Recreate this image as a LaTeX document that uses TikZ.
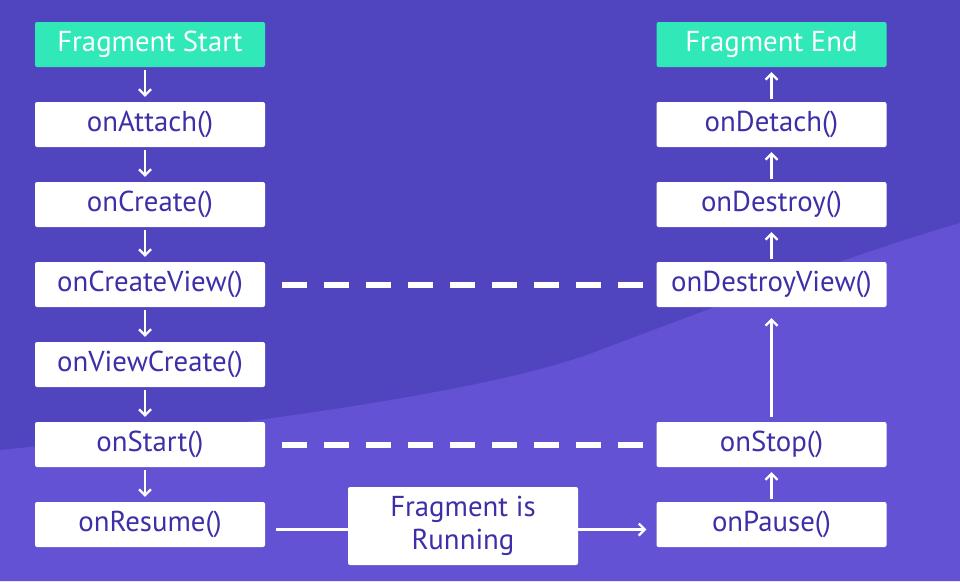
\documentclass[tikz,border=0pt]{standalone}
\usepackage{fontspec}
\setmainfont{PT Sans}
\usetikzlibrary{arrows.meta}
\definecolor{bgdark}{HTML}{5044BF}
\definecolor{bglight}{HTML}{6352D4}
\definecolor{tealbox}{HTML}{30E8B8}
\definecolor{txt}{HTML}{3D2FA8}
\tikzset{
  box/.style={fill=white, rounded corners=2pt, minimum width=230pt, minimum height=45pt, inner sep=0pt, text=txt, font=\fontsize{28.8}{30}\selectfont},
  endbox/.style={box, fill=tealbox, text=white},
  arr/.style={draw=white, line width=2.4pt, -{Straight Barb[length=6pt,width=12pt,line width=2.2pt]}},
  dashline/.style={draw=white, line width=6pt, dash pattern=on 25pt off 17pt}
}
\begin{document}
\begin{tikzpicture}[x=1pt,y=-1pt]
\useasboundingbox (0,0) rectangle (960,581);
\fill[bgdark] (0,0) rectangle (960,581);
\fill[bglight] (0,450) .. controls (250,425) and (500,390) .. (600,350) .. controls (720,305) and (850,255) .. (960,223) -- (960,581) -- (0,581) -- cycle;
% left column
\node[endbox] (fs) at (150,44.5) {Fragment Start};
\node[box] (att) at (150,124.5) {onAttach()};
\node[box] (cre) at (150,204.5) {onCreate()};
\node[box] (crv) at (150,284.5) {onCreateView()};
\node[box] (vcr) at (150,364.5) {onViewCreate()};
\node[box] (sta) at (150,444.5) {onStart()};
\node[box] (res) at (150,524.5) {onResume()};
% right column
\node[endbox] (fe) at (771.5,44.5) {Fragment End};
\node[box] (det) at (771.5,124.5) {onDetach()};
\node[box] (des) at (771.5,204.5) {onDestroy()};
\node[box] (dsv) at (771.5,284.5) {onDestroyView()};
\node[box] (sto) at (771.5,444.5) {onStop()};
\node[box] (pau) at (771.5,524.5) {onPause()};
% middle
\node[box, minimum height=78pt, align=center, font=\fontsize{28.8}{33}\selectfont] (run) at (463,526) {Fragment is\\Running};
% left arrows
\foreach \a/\b in {fs/att,att/cre,cre/crv,crv/vcr,vcr/sta,sta/res}{
  \draw[arr] ([xshift=-5pt,yshift=-3pt]\a.south) -- ([xshift=-5pt,yshift=5pt]\b.north);
}
% right arrows
\foreach \a/\b in {pau/sto,dsv/des,des/det,det/fe}{
  \draw[arr] ([yshift=3pt]\a.north) -- ([yshift=-5pt]\b.south);
}
\draw[arr] ([yshift=5pt]sto.north) -- ([yshift=-11pt]dsv.south);
% dashed
\draw[dashline] ([xshift=17pt]crv.east) -- ([xshift=-13pt]dsv.west);
\draw[dashline] ([xshift=17pt]sta.east) -- ([xshift=-13pt]sto.west);
% running
\draw[draw=white, line width=3pt] ([xshift=11pt,yshift=-5pt]res.east) -- ([yshift=-5pt]run.west |- res.east);
\draw[arr, line width=3pt] ([yshift=-5pt]run.east |- res.east) -- ([xshift=-10pt,yshift=-5pt]pau.west);
\end{tikzpicture}
\end{document}
